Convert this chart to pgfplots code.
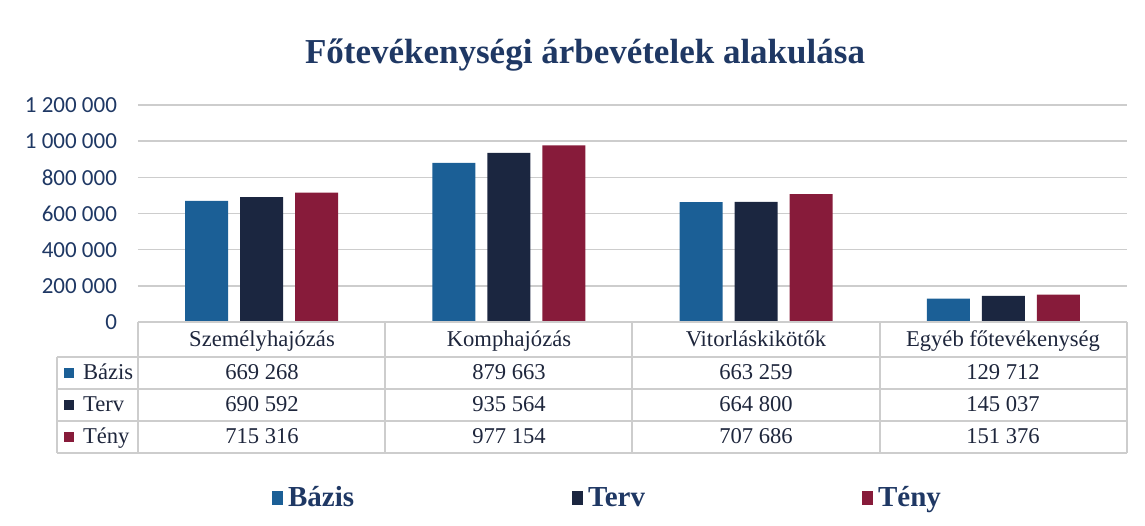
\documentclass[border=0pt]{standalone}
\usepackage{fontspec}
\setmainfont{Liberation Serif}
\newfontfamily\calib{Carlito}
\usepackage{pgfplots}
\pgfplotsset{compat=1.18}

\definecolor{basis}{RGB}{27,95,150}
\definecolor{terv}{RGB}{27,38,64}
\definecolor{teny}{RGB}{135,27,58}
\definecolor{navy}{RGB}{31,56,100}
\definecolor{txt}{RGB}{30,38,60}
\definecolor{rule}{RGB}{205,205,205}

\begin{document}
\begin{tikzpicture}
% canvas in pixels of the reference: 1 px = 0.5 pt, y downwards
\begin{scope}[x=0.5pt,y=-0.5pt]
  \path (0,0) rectangle (1145,525);
  \node[font=\fontsize{17.5}{20}\selectfont\bfseries, text=navy] at (585,55) {Főtevékenységi árbevételek alakulása};
\end{scope}

\begin{axis}[
    at={(69pt,-161pt)}, anchor=south west,
    width=494.5pt, height=108.5pt, scale only axis,
    xmin=-0.5, xmax=3.5,
    ymin=0, ymax=1200000,
    scaled y ticks=false,
    ybar=6pt, bar width=21.5pt,
    axis line style={draw=none},
    major tick length=0pt,
    xtick=\empty,
    ytick={0,200000,400000,600000,800000,1000000,1200000},
    yticklabels={0,200 000,400 000,600 000,800 000,1 000 000,1 200 000},
    yticklabel style={font=\calib\fontsize{11.5}{13}\selectfont, text=navy, anchor=east, xshift=-7pt},
    ymajorgrids,
    grid style={rule, line width=0.8pt},
    clip=false,
]
\addplot[fill=basis, draw=none] coordinates {(0,669268) (1,879663) (2,663259) (3,129712)};
\addplot[fill=terv, draw=none] coordinates {(0,690592) (1,935564) (2,664800) (3,145037)};
\addplot[fill=teny, draw=none] coordinates {(0,715316) (1,977154) (2,707686) (3,151376)};
\end{axis}

\begin{scope}[x=0.5pt,y=-0.5pt]
  % data table
  \draw[rule, line width=0.7pt] (138,322) -- (1127,322);
  \foreach \yy in {357,389,421,453} \draw[rule, line width=0.7pt] (57,\yy) -- (1127,\yy);
  \draw[rule, line width=0.7pt] (57,357) -- (57,453);
  \foreach \xx in {138,385,632,880,1127} \draw[rule, line width=0.7pt] (\xx,322) -- (\xx,453);
  \begin{scope}[every node/.style={font=\fontsize{11.3}{13}\selectfont, text=txt, anchor=base}]
    \node at (262,346) {Személyhajózás};
    \node at (509,346) {Komphajózás};
    \node at (756,346) {Vitorláskikötők};
    \node at (1003,346) {Egyéb főtevékenység};
    \node at (262,379) {669 268};
    \node at (509,379) {879 663};
    \node at (756,379) {663 259};
    \node at (1003,379) {129 712};
    \node at (262,411) {690 592};
    \node at (509,411) {935 564};
    \node at (756,411) {664 800};
    \node at (1003,411) {145 037};
    \node at (262,443) {715 316};
    \node at (509,443) {977 154};
    \node at (756,443) {707 686};
    \node at (1003,443) {151 376};
    \node[anchor=base west] at (76,379) {Bázis};
    \node[anchor=base west] at (76,411) {Terv};
    \node[anchor=base west] at (76,443) {Tény};
  \end{scope}
  \fill[basis] (64,368) rectangle (74,378);
  \fill[terv] (64,400) rectangle (74,410);
  \fill[teny] (64,432) rectangle (74,442);
  % legend
  \begin{scope}[every node/.style={font=\fontsize{14.5}{16}\selectfont\bfseries, text=navy, anchor=base west}]
    \fill[basis] (272,491) rectangle (283,505);
    \node at (281,506) {Bázis};
    \fill[terv] (572,491) rectangle (583,505);
    \node at (581,506) {Terv};
    \fill[teny] (862,491) rectangle (873,505);
    \node at (871,506) {Tény};
  \end{scope}
\end{scope}
\end{tikzpicture}
\end{document}
